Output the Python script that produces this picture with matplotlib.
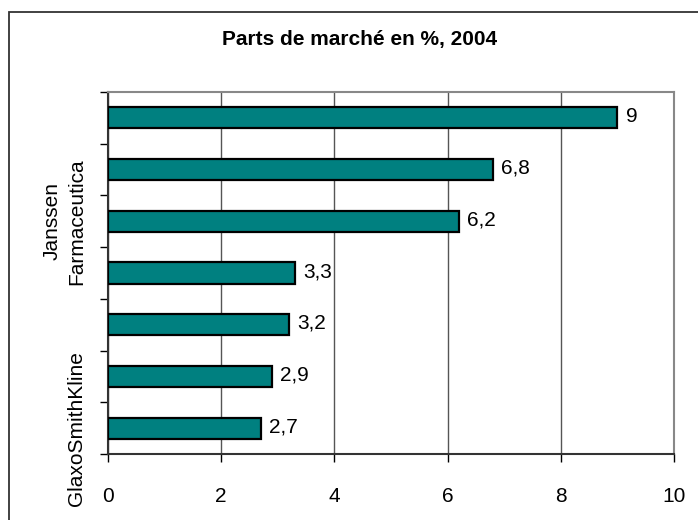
import matplotlib
matplotlib.use("Agg")
import matplotlib.pyplot as plt
from matplotlib.patches import Rectangle
from matplotlib.transforms import blended_transform_factory, offset_copy

plt.rcParams['font.family'] = ['Liberation Sans', 'DejaVu Sans']

title = "Parts de marché en %, 2004"
values = [9, 6.8, 6.2, 3.3, 3.2, 2.9, 2.7]          # top to bottom
labels = ["", "", "Janssen\nFarmaceutica", "", "", "", "GlaxoSmithKline"]
xticks = [0, 2, 4, 6, 8, 10]

W, H = 698, 520
fig = plt.figure(figsize=(W / 100, H / 100), dpi=100)
fig.patch.set_facecolor('white')

# outer chart frame
fig.patches.append(Rectangle((9 / W, -0.05), 1.1, 1 - 12 / H + 0.05,
                             transform=fig.transFigure, fill=False,
                             edgecolor='#333333', linewidth=1.3))

left, right, top, bottom = 108, 674, 92, 454
ax = fig.add_axes([left / W, 1 - bottom / H, (right - left) / W, (bottom - top) / H])

n = len(values)
ypos = list(range(n - 1, -1, -1))
ax.barh(ypos, values, height=0.41, color='#008080', edgecolor='black',
        linewidth=1.6, zorder=3)
for y, v in zip(ypos, values):
    txt = f"{v:g}".replace('.', ',')
    ax.annotate(txt, (v, y), xytext=(6, 1), textcoords='offset points',
                va='center', ha='left', fontsize=15)

ax.set_xlim(0, 10)
ax.set_ylim(-0.5, n - 0.5)
ax.set_xticks(xticks)
ax.set_xticklabels([str(t) for t in xticks], fontsize=15)
ax.grid(axis='x', color='#555555', linewidth=1.0, zorder=0)

# category boundary ticks
ax.set_yticks([i - 0.5 for i in range(n + 1)])
ax.set_yticklabels([])
ax.tick_params(axis='y', which='major', length=6, direction='out', width=1)
ax.tick_params(axis='x', length=6, direction='out', width=1, pad=18)

# rotated category labels
trans = offset_copy(blended_transform_factory(ax.transAxes, ax.transData),
                    fig=fig, x=-22, y=0, units='dots')
for y, lab in zip(ypos, labels):
    if lab:
        ax.text(0, y, lab, transform=trans, rotation=90, ha='right', va='center',
                fontsize=15, multialignment='center', linespacing=1.35)

for s in ['top', 'right']:
    ax.spines[s].set_color('#888888')
    ax.spines[s].set_linewidth(1.5)
for s in ['left', 'bottom']:
    ax.spines[s].set_color('#333333')
    ax.spines[s].set_linewidth(1.5)

fig.text(360 / W, 1 - 40 / H, title, ha='center', va='center',
         fontsize=15, fontweight='bold')

fig.savefig('out.png', dpi=100)
